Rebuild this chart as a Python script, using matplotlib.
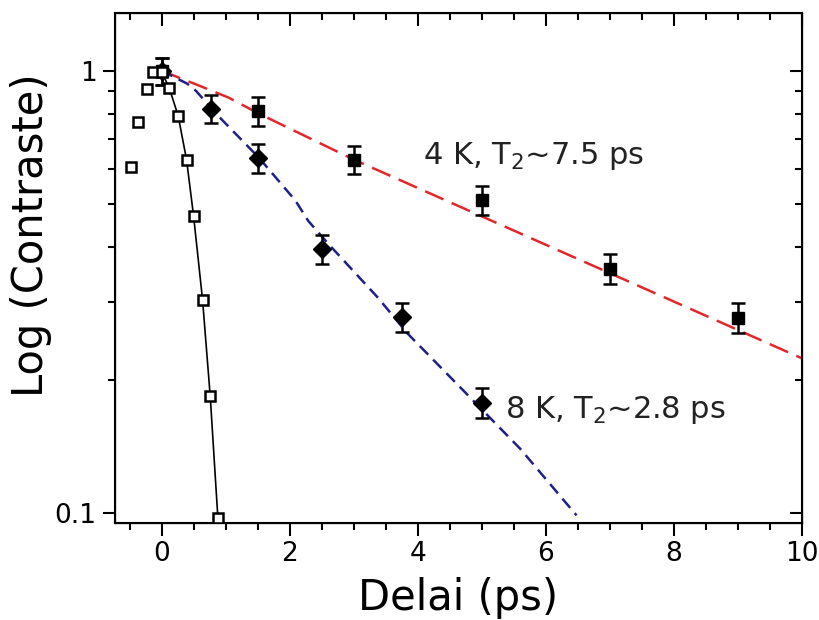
import matplotlib
matplotlib.use("Agg")
import matplotlib.pyplot as plt
from matplotlib.ticker import MultipleLocator, LogLocator, FixedLocator, NullFormatter

# autocorrelation (open squares) and its fit
auto_x = [-0.47, -0.36, -0.23, -0.13, 0.0, 0.12, 0.26, 0.39, 0.50, 0.64, 0.76, 0.88]
auto_y = [0.607, 0.767, 0.91, 0.995, 0.995, 0.915, 0.79, 0.63, 0.47, 0.304, 0.184, 0.0975]
auto_fit_x = [0.05, 0.12, 0.26, 0.39, 0.50, 0.64, 0.76, 0.88, 0.92]
auto_fit_y = [0.96, 0.915, 0.79, 0.63, 0.47, 0.304, 0.184, 0.0975, 0.085]

# 4 K data (filled squares)
k4_x = [0, 1.5, 3, 5, 7, 9]
k4_y = [1.0, 0.81, 0.63, 0.51, 0.357, 0.277]
k4_err = [0.07, 0.06, 0.047, 0.038, 0.028, 0.021]
k4_fit_x = [0, 0.59, 1.05, 1.52, 3.0, 10]
k4_fit_y = [1.0, 0.925, 0.869, 0.80, 0.63, 0.224]

# 8 K data (diamonds)
k8_x = [0, 0.77, 1.5, 2.5, 3.75, 5]
k8_y = [1.0, 0.82, 0.636, 0.396, 0.278, 0.178]
k8_err = [0.07, 0.06, 0.048, 0.03, 0.021, 0.014]
k8_fit_x = [0, 0.40, 0.54, 0.85, 1.52, 2.09, 2.29, 2.60, 3.38, 3.84, 4.98, 5.60, 6.48]
k8_fit_y = [1.0, 0.935, 0.90, 0.80, 0.636, 0.509, 0.458, 0.407, 0.307, 0.255, 0.173, 0.140, 0.099]

plt.rcParams["font.family"] = ["DejaVu Sans"]

fig = plt.figure(figsize=(8.2, 6.2), dpi=100)
ax = fig.add_axes([0.140, 0.156, 0.838, 0.823])

ax.plot(k4_fit_x, k4_fit_y, color="#e3262b", lw=1.8, dashes=(8, 3.6), zorder=2)
ax.plot(k8_fit_x, k8_fit_y, color="#1f1f8a", lw=1.8, dashes=(4.8, 2.8), zorder=2)
ax.plot(auto_fit_x, auto_fit_y, color="black", lw=1.2, zorder=3)

ax.errorbar(k4_x, k4_y, yerr=k4_err, fmt="s", color="black", ms=8.5,
            capsize=5, elinewidth=1.8, capthick=1.8, zorder=4)
ax.errorbar(k8_x, k8_y, yerr=k8_err, fmt="D", color="black", ms=9.5,
            capsize=5, elinewidth=1.8, capthick=1.8, zorder=4)
ax.plot(auto_x, auto_y, "s", mfc="white", mec="black", ms=6.5, mew=1.8, zorder=5)

ax.set_yscale("log")
ax.set_xlim(-0.73, 10)
ax.set_ylim(0.095, 1.35)

ax.xaxis.set_major_locator(MultipleLocator(2))
ax.xaxis.set_minor_locator(MultipleLocator(0.5))
ax.yaxis.set_major_locator(FixedLocator([0.1, 1]))
ax.yaxis.set_major_formatter(plt.FuncFormatter(lambda v, p: "1" if v == 1 else "0.1"))
ax.yaxis.set_minor_locator(LogLocator(base=10, subs=[2, 3, 4, 5, 6, 7, 8, 9]))
ax.yaxis.set_minor_formatter(NullFormatter())

ax.tick_params(which="major", direction="out", length=9, width=1.5, labelsize=19, pad=4)
ax.tick_params(which="minor", direction="out", length=5, width=1.5)
for s in ax.spines.values():
    s.set_linewidth(1.5)

# inward ticks on top and right
axt = ax.twiny()
axt.set_xlim(ax.get_xlim())
axt.xaxis.set_major_locator(MultipleLocator(2))
axt.xaxis.set_minor_locator(MultipleLocator(0.5))
axt.tick_params(axis="x", which="major", direction="in", length=9, width=1.5, labeltop=False)
axt.tick_params(axis="x", which="minor", direction="in", length=5, width=1.5)
axr = ax.twinx()
axr.set_yscale("log")
axr.set_ylim(ax.get_ylim())
axr.yaxis.set_major_locator(FixedLocator([0.1, 1]))
axr.yaxis.set_minor_locator(LogLocator(base=10, subs=[2, 3, 4, 5, 6, 7, 8, 9]))
axr.yaxis.set_minor_formatter(NullFormatter())
axr.tick_params(axis="y", which="major", direction="in", length=9, width=1.5, labelright=False)
axr.tick_params(axis="y", which="minor", direction="in", length=5, width=1.5)

ax.set_xlabel("Delai (ps)", fontsize=30, labelpad=7)
ax.set_ylabel("Log (Contraste)", fontsize=30)
ax.yaxis.set_label_coords(-0.092, 0.565)

ax.text(4.08, 0.617, "4 K, T$_2$~7.5 ps", fontsize=22, va="baseline", ha="left", color="#222222")
ax.text(5.36, 0.164, "8 K, T$_2$~2.8 ps", fontsize=22, va="baseline", ha="left", color="#222222")

fig.savefig("out.png", dpi=100)
